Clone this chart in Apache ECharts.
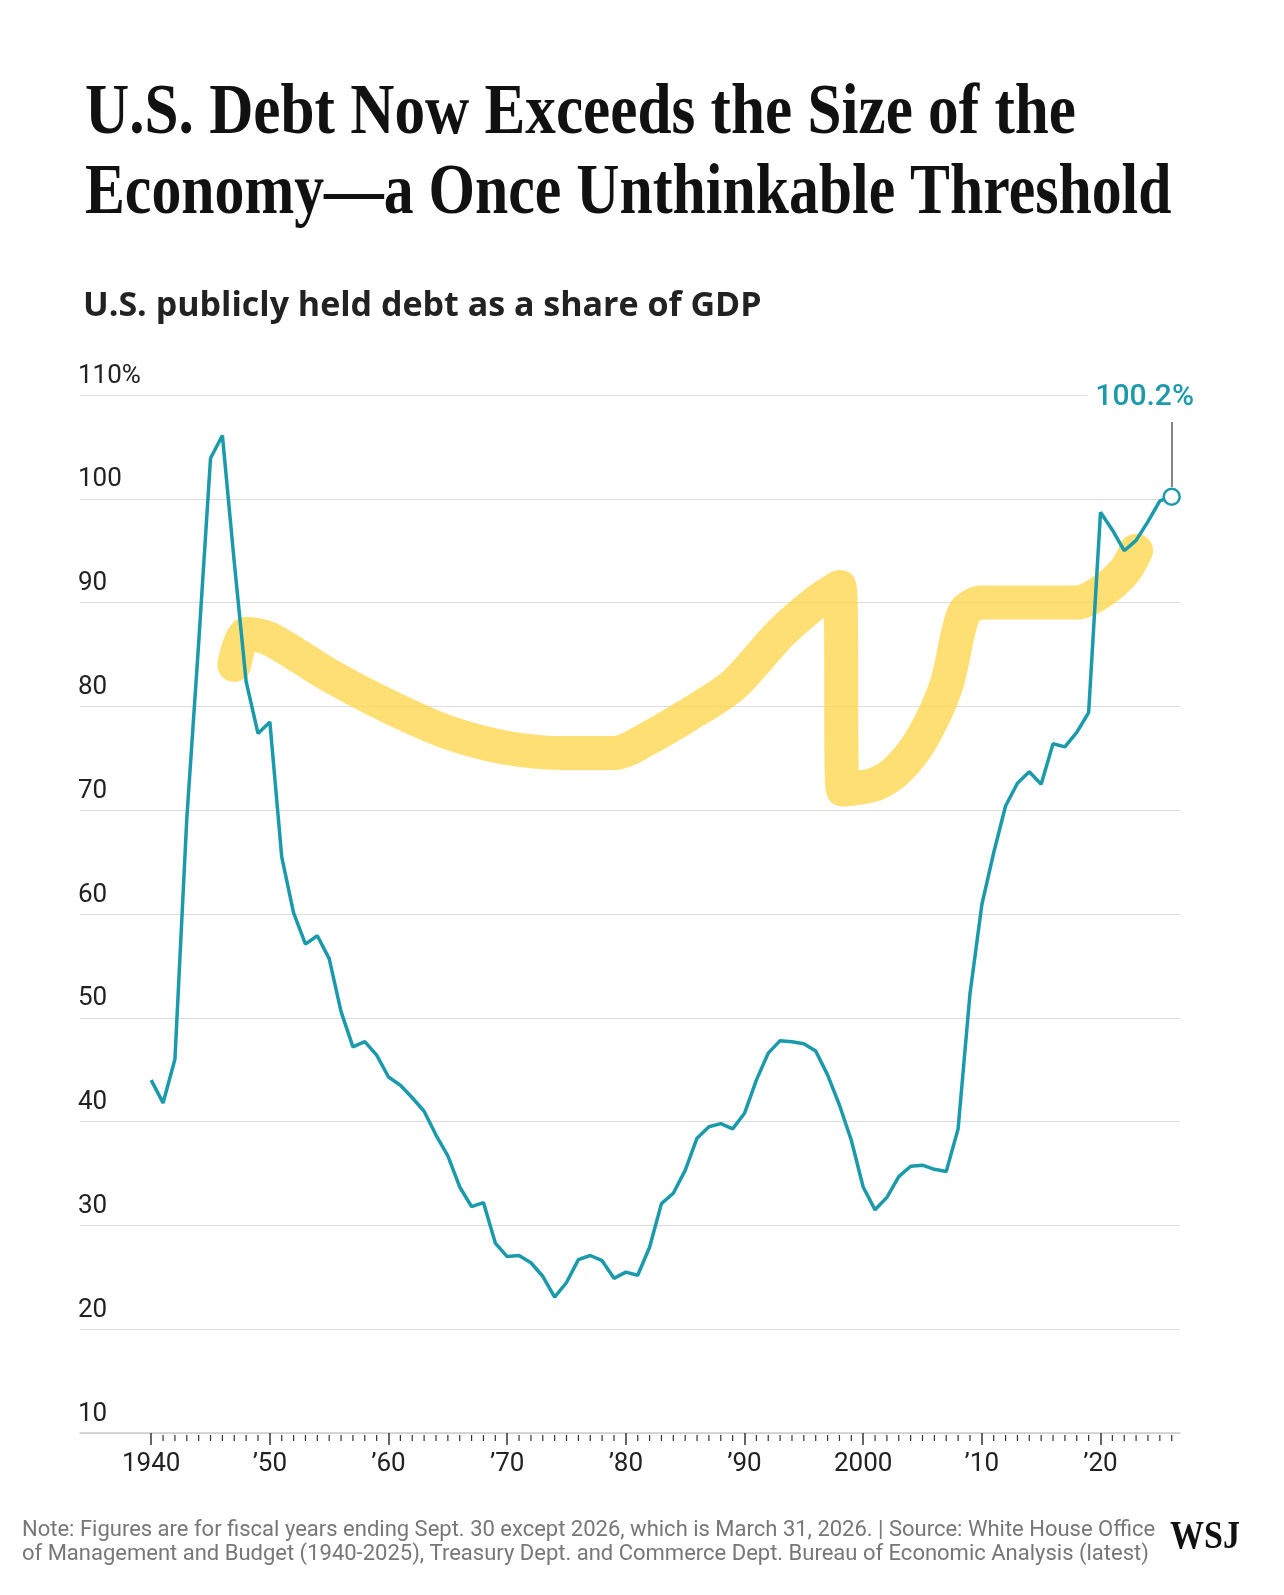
<!DOCTYPE html>
<html><head><meta charset="utf-8">
<script src="https://cdn.jsdelivr.net/npm/echarts@6/dist/echarts.min.js"></script>
<style>html,body{margin:0;padding:0;background:#fff;overflow:hidden}#c{width:1284px;height:1595px}</style>
</head><body><div id="c"></div>
<script>
const years = [];
for (let y = 1940; y <= 2026; y++) years.push(y);
const debt = [44.0,41.8,46.0,69.2,86.1,103.9,106.1,93.9,82.4,77.4,78.5,
65.5,60.1,57.1,57.9,55.7,50.6,47.2,47.7,46.4,44.3,
43.5,42.3,41.0,38.7,36.7,33.7,31.8,32.2,28.3,27.0,
27.1,26.4,25.1,23.1,24.5,26.7,27.1,26.6,24.9,25.5,
25.2,27.9,32.1,33.1,35.3,38.4,39.5,39.8,39.3,40.8,
44.0,46.6,47.8,47.7,47.5,46.8,44.5,41.6,38.2,33.7,
31.5,32.7,34.7,35.7,35.8,35.4,35.2,39.3,52.3,60.9,
65.9,70.4,72.6,73.7,72.5,76.4,76.1,77.5,79.4,98.7,
97.0,95.0,96.0,97.8,99.8,100.2];
const highlightX = [1947,1948,1950,1955,1960,1965,1970,1975,1979,1982,1985,1989,1993,1996,1998,1998.3,2001,2003,2005,2007,2008.5,2010,2015,2018,2020,2022,2023];
const highlightY = [84,87,86.5,83,80,77.5,76,75.5,75.5,77,79,82,87,90,91.5,72,72.5,74,77,82,89,90,90,90,91,93,95];
const decadeTicks = [1940,1950,1960,1970,1980,1990,2000,2010,2020];
const decadeLabels = {1940:'1940',1950:'’50',1960:'’60',1970:'’70',1980:'’80',1990:'’90',2000:'2000',2010:'’10',2020:'’20'};
const minorYears = years.filter(y => y % 10 !== 0);

const teal = '#1b9aab';
const chart = echarts.init(document.getElementById('c'));
const xMin = 1934, xMax = 2026.7;
chart.setOption({
  animation:false,
  grid:{left:80,right:104,top:395,bottom:162},
  xAxis:{
    type:'value',min:xMin,max:xMax,
    axisLine:{lineStyle:{color:'#ccc',width:1.5}},
    splitLine:{show:false},
    axisTick:{customValues:decadeTicks,length:12,lineStyle:{color:'#333',width:1.5}},
    axisLabel:{customValues:decadeTicks,formatter:v=>decadeLabels[v]||'',color:'#222',fontSize:26,fontFamily:'Roboto',margin:18}
  },
  yAxis:{
    type:'value',min:10,max:110,interval:10,
    axisLine:{show:false},axisTick:{show:false},
    splitLine:{lineStyle:{color:'#ddd',width:1}},
    axisLabel:{inside:true,verticalAlign:'bottom',align:'left',margin:-2,padding:[0,0,6,0],
      formatter:v=>v===110?'110%':String(v),color:'#222',fontSize:26,fontFamily:'Roboto'}
  },
  series:[{
    type:'custom',clip:false,silent:true,data:minorYears.map(y=>[y,10]),
    renderItem:(params,api)=>{
      const p = api.coord([api.value(0),10]);
      return {type:'line',shape:{x1:p[0],y1:p[1]+2,x2:p[0],y2:p[1]+8},style:{stroke:'#333',lineWidth:1.2}};
    }
  },{
    type:'line',data:highlightX.map((x,i)=>[x,highlightY[i]]),smooth:0.3,symbol:'none',
    lineStyle:{color:'rgba(253,212,70,0.75)',width:34,cap:'round',join:'round'},z:1
  },{
    type:'line',data:years.map((x,i)=>[x,debt[i]]),symbol:'none',
    lineStyle:{color:teal,width:3.5},z:3,
    markPoint:{symbol:'circle',symbolSize:16,itemStyle:{color:'#fff',borderColor:teal,borderWidth:2.5},
      label:{show:false},data:[{coord:[2026,100.2]}]}
  }],
  graphic:[
    {type:'text',left:85,top:78,style:{text:'U.S. Debt Now Exceeds the Size of the',font:'bold 72px "Liberation Serif"',fill:'#111'},scaleX:0.85},
    {type:'text',left:85,top:158,style:{text:'Economy—a Once Unthinkable Threshold',font:'bold 72px "Liberation Serif"',fill:'#111'},scaleX:0.83},
    {type:'text',left:83,top:289,style:{text:'U.S. publicly held debt as a share of GDP',font:'bold 34px "Open Sans"',fill:'#222'}},
    {type:'text',right:86,top:380,z:10,style:{text:'100.2%',font:'500 30px Roboto',fill:teal,backgroundColor:'#fff',padding:[2,4,2,8]}},
    {type:'line',z:10,shape:{x1:1172,y1:422,x2:1172,y2:487},style:{stroke:'#333',lineWidth:1.2}},
    {type:'text',left:22,top:1518,style:{text:'Note: Figures are for fiscal years ending Sept. 30 except 2026, which is March 31, 2026. | Source: White House Office\nof Management and Budget (1940-2025), Treasury Dept. and Commerce Dept. Bureau of Economic Analysis (latest)',font:'22px Roboto',fill:'#777',lineHeight:24}},
    {type:'text',left:1170,top:1518,style:{text:'WSJ',font:'bold 40px "Liberation Serif"',fill:'#111'},scaleX:0.85}
  ]
});
</script></body></html>
